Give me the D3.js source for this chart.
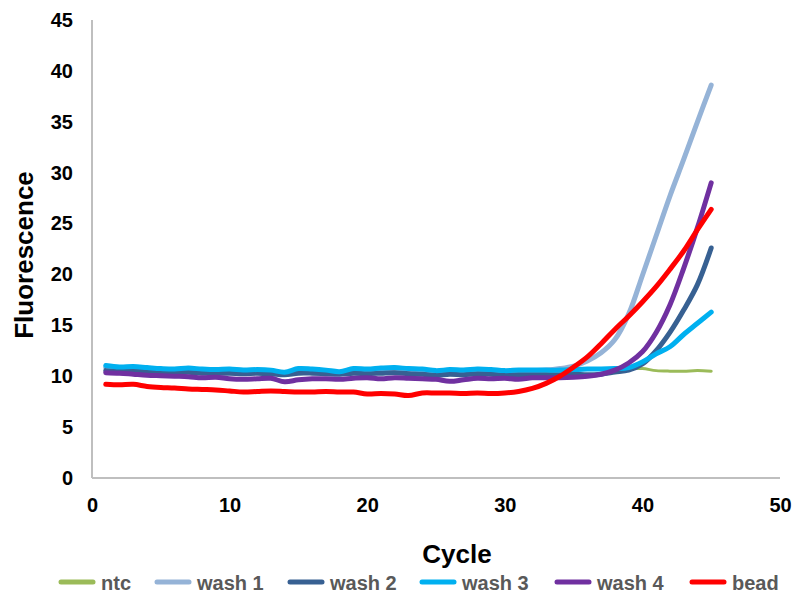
<!DOCTYPE html>
<html>
<head>
<meta charset="utf-8">
<script src="https://cdn.jsdelivr.net/npm/d3@7"></script>
<style>
  html, body { margin: 0; padding: 0; background: #fff; }
  svg { display: block; font-family: "Liberation Sans", Arial, sans-serif; }
</style>
</head>
<body>
<svg id="chart" width="795" height="596"></svg>
<script>
// qPCR amplification curves: fluorescence per cycle
const cycles = [1,2,3,4,5,6,7,8,9,10,11,12,13,14,15,16,17,18,19,20,21,22,23,24,25,26,27,28,29,30,31,32,33,34,35,36,37,38,39,40,41,42,43,44,45];

const ntc = [10.55,10.5,10.5,10.5,10.45,10.45,10.5,10.45,10.4,10.45,10.4,10.45,10.4,10.3,10.45,10.45,10.4,10.35,10.45,10.45,10.5,10.55,10.45,10.45,10.35,10.45,10.4,10.5,10.45,10.4,10.45,10.45,10.5,10.55,10.6,10.7,10.7,10.7,10.75,10.75,10.55,10.5,10.5,10.55,10.5];
const wash1 = [10.85,10.75,10.8,10.7,10.65,10.6,10.65,10.55,10.5,10.55,10.5,10.5,10.5,10.35,10.6,10.6,10.5,10.4,10.6,10.6,10.65,10.7,10.6,10.55,10.45,10.55,10.5,10.6,10.55,10.45,10.5,10.55,10.6,10.75,11.0,11.5,12.3,13.6,16.1,19.9,23.8,27.7,31.3,35.0,38.6];
const wash2 = [10.55,10.5,10.5,10.45,10.4,10.35,10.4,10.3,10.3,10.3,10.25,10.3,10.25,10.15,10.3,10.3,10.25,10.2,10.3,10.25,10.3,10.35,10.25,10.2,10.1,10.2,10.15,10.25,10.2,10.1,10.15,10.15,10.15,10.15,10.2,10.15,10.2,10.4,10.6,11.2,12.5,14.3,16.5,19.0,22.6];
const wash3 = [11.05,10.9,10.95,10.85,10.75,10.7,10.8,10.7,10.65,10.7,10.6,10.65,10.6,10.4,10.75,10.7,10.6,10.45,10.75,10.7,10.8,10.85,10.75,10.7,10.55,10.65,10.6,10.7,10.65,10.55,10.6,10.6,10.6,10.6,10.65,10.7,10.7,10.75,10.85,11.4,12.2,12.9,14.1,15.2,16.3];
const wash4 = [10.35,10.3,10.2,10.1,10.05,10.0,9.95,9.85,9.9,9.75,9.7,9.75,9.8,9.45,9.65,9.75,9.75,9.7,9.8,9.85,9.75,9.85,9.8,9.75,9.7,9.5,9.65,9.8,9.75,9.8,9.7,9.85,9.85,9.85,9.9,10.0,10.2,10.6,11.3,12.4,14.3,17.0,20.6,24.6,29.0];
const bead = [9.2,9.15,9.2,9.0,8.9,8.85,8.75,8.7,8.65,8.55,8.45,8.5,8.55,8.5,8.45,8.45,8.5,8.45,8.45,8.25,8.3,8.25,8.1,8.35,8.35,8.35,8.3,8.35,8.3,8.35,8.5,8.8,9.3,10.0,10.9,11.9,13.2,14.6,15.9,17.3,18.8,20.5,22.3,24.4,26.4];

const seriesNames = ["ntc", "wash 1", "wash 2", "wash 3", "wash 4", "bead"];
const seriesValues = [ntc, wash1, wash2, wash3, wash4, bead];
const seriesColors = ["#9BBB59", "#95B3D7", "#376092", "#00B0F0", "#7030A0", "#FF0000"];
const seriesWidths = [3, 5, 5, 5, 5, 5];

const xTicks = [0, 10, 20, 30, 40, 50];
const yTicks = [0, 5, 10, 15, 20, 25, 30, 35, 40, 45];

const svg = d3.select("#chart");
const x = d3.scaleLinear().domain([0, 50]).range([92, 780]);
const y = d3.scaleLinear().domain([0, 45]).range([478, 20]);

// axis lines
svg.append("line")
  .attr("x1", x(0)).attr("x2", x(0)).attr("y1", y(45)).attr("y2", y(0))
  .attr("stroke", "#BFBFBF").attr("stroke-width", 2);
svg.append("line")
  .attr("x1", x(0)).attr("x2", x(50)).attr("y1", y(0)).attr("y2", y(0))
  .attr("stroke", "#BFBFBF").attr("stroke-width", 2);

// tick labels
const yAxis = d3.axisLeft(y).tickValues(yTicks).tickSize(0).tickPadding(19);
const gy = svg.append("g").attr("transform", `translate(${x(0)},0)`).call(yAxis);
gy.select(".domain").remove();
gy.selectAll("text").attr("font-size", 20).attr("font-weight", "bold")
  .attr("font-family", "Liberation Sans, Arial, sans-serif").attr("fill", "#000");

const xAxis = d3.axisBottom(x).tickValues(xTicks).tickSize(0).tickPadding(20);
const gx = svg.append("g").attr("transform", `translate(0,${y(0)})`).call(xAxis);
gx.select(".domain").remove();
gx.selectAll("text").attr("font-size", 20).attr("font-weight", "bold")
  .attr("font-family", "Liberation Sans, Arial, sans-serif").attr("fill", "#000");

// axis titles
svg.append("text")
  .attr("transform", "translate(33,255) rotate(-90)")
  .attr("text-anchor", "middle")
  .attr("font-size", 26).attr("font-weight", "bold").attr("fill", "#000")
  .text("Fluorescence");
svg.append("text")
  .attr("x", 457).attr("y", 563)
  .attr("text-anchor", "middle")
  .attr("font-size", 26).attr("font-weight", "bold").attr("fill", "#000")
  .text("Cycle");

// curves
const line = d3.line()
  .x((d, i) => x(cycles[i]))
  .y(d => y(d))
  .curve(d3.curveCatmullRom.alpha(0.5));

svg.append("g").selectAll("path")
  .data(seriesValues)
  .join("path")
  .attr("d", d => line(d))
  .attr("fill", "none")
  .attr("stroke", (d, i) => seriesColors[i])
  .attr("stroke-width", (d, i) => seriesWidths[i])
  .attr("stroke-linejoin", "round")
  .attr("stroke-linecap", "round");

// legend
const legendX = [61, 157, 290, 422, 557, 692];
const lg = svg.append("g").selectAll("g")
  .data(seriesNames)
  .join("g")
  .attr("transform", (d, i) => `translate(${legendX[i]},582)`);
lg.append("line")
  .attr("x1", 0).attr("x2", 32).attr("y1", 0).attr("y2", 0)
  .attr("stroke", (d, i) => seriesColors[i])
  .attr("stroke-width", 5).attr("stroke-linecap", "round");
lg.append("text")
  .attr("x", 40).attr("y", 8)
  .attr("font-size", 20).attr("font-weight", "bold").attr("fill", "#595959")
  .text(d => d);
</script>
</body>
</html>
